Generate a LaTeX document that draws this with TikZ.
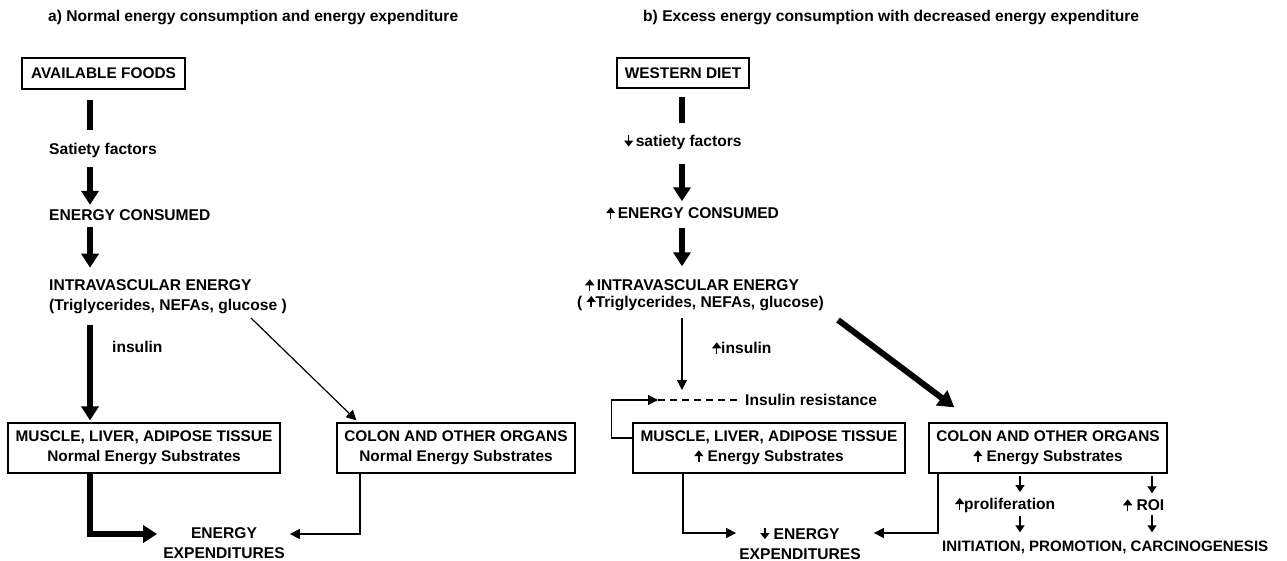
\documentclass[tikz,border=0pt]{standalone}
\usepackage{fontspec}
\setmainfont{Liberation Sans}
\usetikzlibrary{arrows.meta,calc}
\newcommand{\upar}{\tikz[baseline=0pt]\draw[line width=1.5pt,-{Triangle[length=6pt,width=9pt]}] (0pt,0pt) -- (0pt,11.5pt);}
\newcommand{\downar}{\tikz[baseline=0pt]\draw[line width=1.5pt,-{Triangle[length=6pt,width=9pt]}] (0pt,11.5pt) -- (0pt,0pt);}
\tikzset{
  txt/.style={font=\fontsize{15.6}{20}\selectfont\bfseries, inner sep=0pt, anchor=west, align=left},
  boxed/.style={draw, line width=1.2pt, font=\fontsize{15.4}{20}\selectfont\bfseries, align=center, minimum height=50pt},
  fatarrow/.style={line width=6pt, -{Triangle[length=14pt,width=17pt]}},
  fatbar/.style={line width=6pt},
  link/.style={line width=1.2pt, -{Triangle[length=10pt,width=10pt]}},
  smallarrow/.style={line width=1.2pt, -{Triangle[length=7pt,width=9pt]}},
}
\begin{document}
\begin{tikzpicture}[x=1pt,y=-1pt]
  \useasboundingbox (0,0) rectangle (1287,561);
  % a) normal
  \node[txt] (titleA) at (48,18) {a) Normal energy consumption and energy expenditure};
  \node[boxed, minimum width=163pt, minimum height=31pt] (foodsA) at (103.5,73.5) {AVAILABLE FOODS};
  \node[txt] (satA) at (49,150) {Satiety factors};
  \node[txt] (consA) at (49,215) {ENERGY CONSUMED};
  \node[txt] (intraA) at (49,296.5) {INTRAVASCULAR ENERGY\\(Triglycerides, NEFAs, glucose )};
  \node[txt] (insA) at (112,347) {insulin};
  \node[boxed, minimum width=272pt] (muscleA) at (144,448) {MUSCLE, LIVER, ADIPOSE TISSUE\\Normal Energy Substrates};
  \node[boxed, minimum width=238pt] (colonA) at (456,448) {COLON AND OTHER ORGANS\\Normal Energy Substrates};
  \node[txt, align=center, anchor=center] (expA) at (224,543) {ENERGY\\EXPENDITURES};
  \coordinate (colA) at (90,0);
  \coordinate (colCA) at (360,0);
  \coordinate (glucA) at (251,318);
  \draw[fatbar, shorten <=10pt, shorten >=13pt] (foodsA.south -| colA) -- (satA.north -| colA);
  \draw[fatarrow, shorten <=10pt, shorten >=4.5pt] (satA.south -| colA) -- (consA.north -| colA);
  \draw[fatarrow, shorten <=6.5pt, shorten >=11.5pt] (consA.south -| colA) -- (intraA.north -| colA);
  \draw[fatarrow, shorten <=11.5pt, shorten >=2pt] (intraA.south -| colA) -- (muscleA.north -| colA);
  \draw[link] (glucA) -- ($(colonA.north west)+(20,-2)$);
  \draw[fatarrow, shorten >=6pt] (muscleA.south -| colA) |- ([yshift=9pt]expA.west);
  \draw[link, shorten >=5pt] (colonA.south -| colCA) |- ([yshift=9pt]expA.east);
  % b) excess
  \node[txt] (titleB) at (643,18) {b) Excess energy consumption with decreased energy expenditure};
  \node[boxed, minimum width=132pt, minimum height=30pt] (dietB) at (683,73) {WESTERN DIET};
  \node[txt] (satB) at (624,142) {\downar\,satiety factors};
  \node[txt] (consB) at (606,213) {\upar\,ENERGY CONSUMED};
  \node[txt] (intraB) at (585,285) {\upar\,INTRAVASCULAR ENERGY};
  \node[txt] (trigB) at (577,303) {( \upar Triglycerides, NEFAs, glucose)};
  \node[txt] (insB) at (712,348) {\upar insulin};
  \node[txt] (resB) at (745,400) {Insulin resistance};
  \node[boxed, minimum width=272pt] (muscleB) at (769,448) {MUSCLE, LIVER, ADIPOSE TISSUE\\\upar\ Energy Substrates};
  \node[boxed, minimum width=238pt] (colonB) at (1048,448) {COLON AND OTHER ORGANS\\\upar\ Energy Substrates};
  \node[txt, align=center, anchor=center] (expB) at (800,543) {\downar\ ENERGY\\EXPENDITURES};
  \node[txt] (prolB) at (955,505) {\upar proliferation};
  \node[txt] (roiB) at (1123,505) {\upar\ ROI};
  \node[txt, font=\fontsize{15.1}{20}\selectfont\bfseries] (carcB) at (942,547) {INITIATION, PROMOTION, CARCINOGENESIS};
  \coordinate (colB) at (682,0);
  \coordinate (colMB) at (683,0);
  \coordinate (colCB) at (938,0);
  \coordinate (irB) at (658,400);
  \coordinate (glucB) at (838,320);
  \coordinate (pB) at (1020,0);
  \coordinate (rB) at (1152,0);
  \draw[fatbar, shorten <=8pt, shorten >=11pt] (dietB.south -| colB) -- (satB.north -| colB);
  \draw[fatarrow, shorten <=14pt, shorten >=5pt] (satB.south -| colB) -- (consB.north -| colB);
  \draw[fatarrow, shorten <=8pt, shorten >=12pt] (consB.south -| colB) -- (intraB.north -| colB);
  \draw[link, shorten <=7pt, shorten >=10pt] (trigB.south -| colB) -- (colB |- resB.west);
  \draw[link] ([yshift=10pt]muscleB.west) -- ++(-21,0) |- (irB);
  \draw[line width=1.2pt, dash pattern=on 7pt off 5pt, shorten >=7pt] (irB) -- (resB.west);
  \draw[line width=6pt, -{Triangle[length=16pt,width=18pt]}] (glucB) -- ($(colonB.north west)+(26,-15)$);
  \draw[link, shorten >=3pt] (muscleB.south -| colMB) |- ([yshift=10pt]expB.west);
  \draw[link, shorten >=13pt] (colonB.south -| colCB) |- ([yshift=10pt]expB.east);
  \foreach \c/\t in {pB/prolB, rB/roiB} {
    \draw[smallarrow, shorten <=2pt, shorten >=5pt] (colonB.south -| \c) -- (\t.north -| \c);
    \draw[smallarrow, shorten <=3pt, shorten >=8pt] (\t.south -| \c) -- (carcB.north -| \c);
  }
\end{tikzpicture}
\end{document}
